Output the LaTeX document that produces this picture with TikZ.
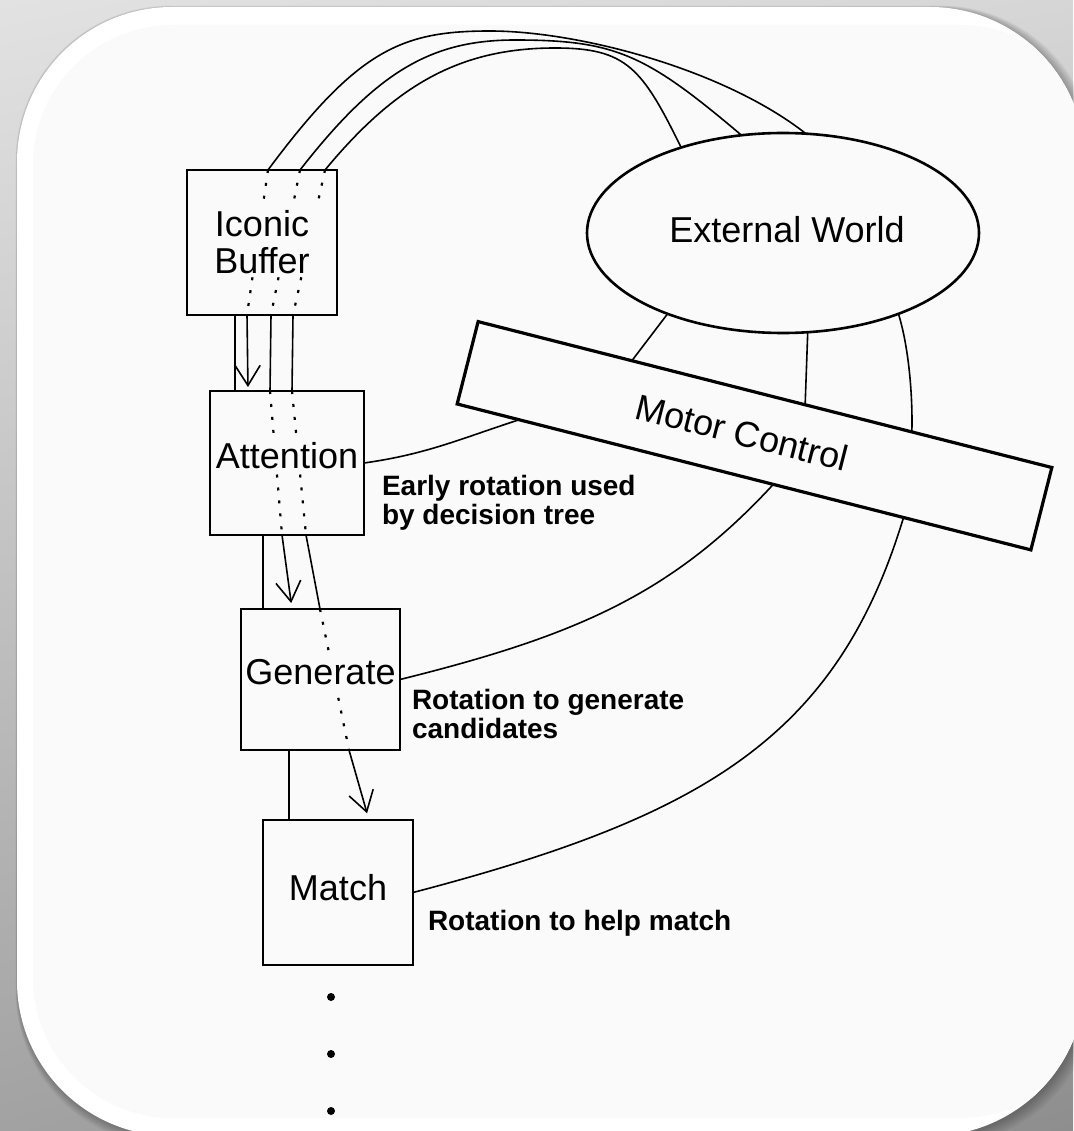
\documentclass[tikz,border=0pt]{standalone}
\usepackage{fontspec}
\setmainfont{Liberation Sans}
\usetikzlibrary{shapes.geometric,arrows.meta,calc,shadings}
\definecolor{paper}{HTML}{FAFAFA}
\definecolor{bgA}{HTML}{E2E2E2}
\definecolor{bgB}{HTML}{D6D6D6}
\definecolor{bgC}{HTML}{A2A2A2}
\definecolor{bgD}{HTML}{8E8E8E}
\begin{document}
\begin{tikzpicture}[x=1pt,y=1pt,
  box/.style={draw, line width=2.6pt, rectangle, inner sep=0pt, outer sep=0pt, font=\fontsize{36}{37}\selectfont},
  conn/.style={line width=1.6pt},
  dots/.style={line width=2.2pt, dash pattern=on 3pt off 10pt},
  arr/.style={conn, -{Straight Barb[length=20pt,width=25pt]}},
  lab/.style={font=\bfseries\fontsize{28}{29}\selectfont, align=left, inner sep=0pt, outer sep=0pt},
  dotnode/.style={circle, fill, inner sep=0pt, minimum size=8pt}]
\useasboundingbox (0,0) rectangle (1073,-1131);
% background and card
\shade[upper left=bgA, upper right=bgB, lower left=bgC, lower right=bgD] (0,0) rectangle (1073,-1131);
\foreach \i in {1,...,8} {
  \fill[black, opacity=0.035, rounded corners=155pt] (18-0.3*\i,-8+0.3*\i) rectangle (1086+1.2*\i,-1136-1.2*\i);
}
\begin{scope}
  \clip[rounded corners=155pt] (17,-7) rectangle (1085,-1136);
  \fill[white] (0,0) rectangle (1100,-1140);
  \fill[paper, rounded corners=140pt] (33,-25) rectangle (1100,-1118);
\end{scope}

% nodes
\node[box, minimum width=150pt, minimum height=145pt, align=center] (ib) at (262,-242.5) {Iconic\\Buffer};
\node[box, minimum width=154pt, minimum height=144pt, text height=26pt, text depth=16pt] (att) at (287,-463) {Attention};
\node[box, minimum width=159pt, minimum height=141pt, text height=26pt, text depth=17pt] (gen) at (320.5,-679.5) {Generate};
\node[box, minimum width=150pt, minimum height=145pt, text height=26pt, text depth=11pt] (match) at (338,-892.5) {Match};
\node[ellipse, draw, line width=2.6pt, inner sep=0pt, outer sep=0pt, minimum width=392pt, minimum height=200pt,
      text height=26pt, text depth=6pt, font=\fontsize{36}{37}\selectfont] (ew) at (783,-233) {\hspace*{8pt}External World};
\node[box, line width=3.2pt, rotate=-14.27, minimum width=592pt, minimum height=85pt] (mc) at (754.5,-435.75) {Motor Control\hspace*{26pt}};

\node[lab, anchor=north west] (l1) at (382,-475) {Early rotation used\\by decision tree};
\node[lab, anchor=north west] (l2) at (412,-689) {Rotation to generate\\candidates};
\node[lab, anchor=base west] (l3) at (428,-930) {Rotation to help match};

\node[dotnode] (d1) at (331,-997) {};
\node[dotnode] (d2) at (331,-1054) {};
\node[dotnode] (d3) at (331,-1111) {};

% chain coordinates
\coordinate (a1) at ([xshift=81pt]ib.north west);
\coordinate (b1) at ([xshift=113pt]ib.north west);
\coordinate (c1) at ([xshift=138pt]ib.north west);
\coordinate (a2) at ([xshift=60pt]ib.south west);
\coordinate (b2) at ([xshift=84pt]ib.south west);
\coordinate (c2) at ([xshift=106pt]ib.south west);
\coordinate (a3) at ([xshift=38pt]att.north west);
\coordinate (b3) at ([xshift=60pt]att.north west);
\coordinate (c3) at ([xshift=82pt]att.north west);
\coordinate (b4) at ([xshift=72pt]att.south west);
\coordinate (c4) at ([xshift=96pt]att.south west);
\coordinate (b5) at ([xshift=51pt]gen.north west);
\coordinate (c5) at ([xshift=79pt]gen.north west);
\coordinate (c6) at ([xshift=108pt]gen.south west);
\coordinate (c7) at ([xshift=106pt]match.north west);
\coordinate (p1) at ([xshift=48pt]ib.south west);
\coordinate (p2) at ([xshift=53pt]att.south west);
\coordinate (p3) at ([xshift=48pt]gen.south west);

% arcs from the iconic buffer to the external world
\draw[conn] (a1) .. controls (358,-48.7) and (402.6,-31) .. (490,-31)
                 .. controls (578.1,-31) and (723.6,-69) .. (ew.77.6);
\draw[conn] (b1) .. controls (377,-71.3) and (431.3,-40) .. (515,-40)
                 .. controls (615.6,-40) and (646,-54.4) .. (ew.113.7);
\draw[conn] (c1) .. controls (394.6,-86) and (458.7,-48) .. (555,-48)
                 .. controls (626.7,-48) and (642,-68) .. (ew.140.7);

% chains down the column
\draw[dots] (a1) -- ($(a1)!0.24!(a2)$) ($(a1)!0.74!(a2)$) -- (a2);
\draw[arr, shorten >=4pt] (a2) -- (a3);
\draw[dots] (b1) -- ($(b1)!0.24!(b2)$) ($(b1)!0.74!(b2)$) -- (b2);
\draw[conn] (b2) -- (b3);
\draw[dots] (b3) -- ($(b3)!0.3!(b4)$) ($(b3)!0.58!(b4)$) -- (b4);
\draw[arr, shorten >=6pt] (b4) -- (b5);
\draw[dots] (c1) -- ($(c1)!0.24!(c2)$) ($(c1)!0.74!(c2)$) -- (c2);
\draw[conn] (c2) -- (c3);
\draw[dots] (c3) -- ($(c3)!0.3!(c4)$) ($(c3)!0.58!(c4)$) -- (c4);
\draw[conn] (c4) -- (c5);
\draw[dots] (c5) -- ($(c5)!0.31!(c6)$) ($(c5)!0.63!(c6)$) -- (c6);
\draw[arr, shorten >=7pt] (c6) -- (c7);

% plain links between boxes
\draw[conn] (p1) -- (p1 |- att.north);
\draw[conn] (p2) -- (p2 |- gen.north);
\draw[conn] (p3) -- (p3 |- match.north);

% links to motor control
\draw[conn] (att.east) to[out=8,in=198] ($(mc.south west)!0.108!(mc.south east)$);
\draw[conn] (gen.east) .. controls +(174.8,43.4) and +(-101.7,-110.3) .. ($(mc.south west)!0.551!(mc.south east)$);
\draw[conn] (match.east) .. controls +(290.1,75.9) and +(-66.7,-220.1) .. ($(mc.south west)!0.778!(mc.south east)$);

% motor control to external world
\draw[conn] ($(mc.north west)!0.268!(mc.north east)$) -- (ew.215);
\draw[conn] ($(mc.north west)!0.570!(mc.north east)$) -- (ew.284);
\draw[conn] ($(mc.north west)!0.756!(mc.north east)$) .. controls +(1,38) and +(10,-32) .. (ew.325.7);
\end{tikzpicture}
\end{document}
